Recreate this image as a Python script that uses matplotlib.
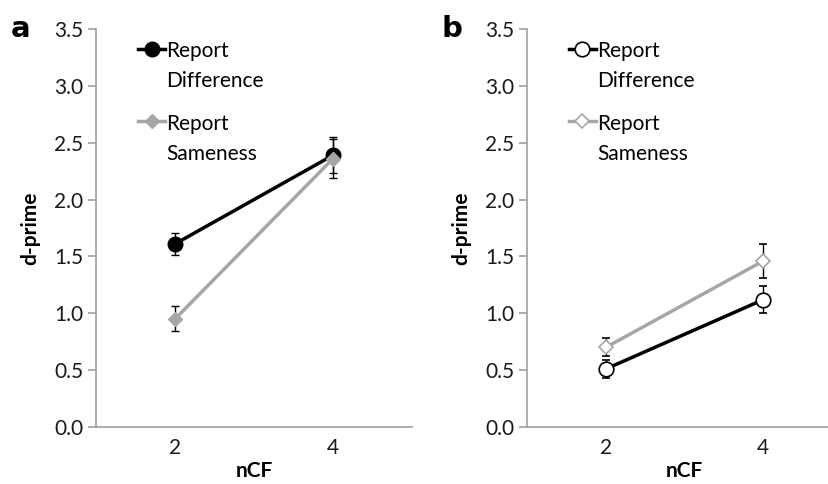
import matplotlib
matplotlib.use('Agg')
import matplotlib.pyplot as plt
from matplotlib.lines import Line2D

plt.rcParams['font.family'] = ['Lato', 'DejaVu Sans']

# nCF categories
ncf = ['2', '4']

# panel a
a_diff = [1.61, 2.39]
a_diff_err = [0.10, 0.16]
a_same = [0.95, 2.36]
a_same_err = [0.11, 0.17]

# panel b
b_diff = [0.51, 1.12]
b_diff_err = [0.08, 0.12]
b_same = [0.70, 1.46]
b_same_err = [0.08, 0.15]

labels = ['Report\nDifference', 'Report\nSameness']

W, H = 829, 484
fig = plt.figure(figsize=(W / 100, H / 100), dpi=100)

GRAY = '#a6a6a6'
AXIS = '#a0a0a0'
FS = 15


def setup(ax, letter):
    ax.set_xlim(-0.5, 1.5)
    ax.set_ylim(0, 3.5)
    ax.set_yticks([0, 0.5, 1.0, 1.5, 2.0, 2.5, 3.0, 3.5])
    ax.set_yticklabels(['%.1f' % v for v in ax.get_yticks()])
    ax.set_xticks(range(len(ncf)))
    ax.set_xticklabels(ncf)
    for s in ['top', 'right']:
        ax.spines[s].set_visible(False)
    for s in ['left', 'bottom']:
        ax.spines[s].set_color(AXIS)
        ax.spines[s].set_linewidth(1.2)
    ax.tick_params(axis='y', direction='out', length=6, color=AXIS, width=1.2,
                   labelsize=FS, pad=3, labelcolor='#1a1a1a')
    ax.tick_params(axis='x', length=0, labelsize=FS, pad=8, labelcolor='#1a1a1a')
    ax.set_ylabel('d-prime', fontsize=FS, fontweight='bold', labelpad=10)
    ax.set_xlabel('nCF', fontsize=FS, fontweight='bold', labelpad=2)
    ax.text(-0.27, 1.0, letter, transform=ax.transAxes, fontsize=21,
            fontweight='bold', va='center', ha='left', family='DejaVu Sans')


def add_legend(ax, handles):
    leg = ax.legend(handles, labels, loc='upper left', bbox_to_anchor=(0.1, 0.995),
                    frameon=False, fontsize=FS, handlelength=1.3, handletextpad=0.05,
                    labelspacing=1.1, borderaxespad=0.1)
    for t in leg.get_texts():
        t.set_linespacing(1.6)
    for col in leg._legend_handle_box.get_children():
        for row in col.get_children():
            row.align = 'top'
    return leg


bot = 1 - 427 / H
top = 1 - 29 / H
x = range(len(ncf))
eb = dict(ecolor='black', elinewidth=1, capsize=3, capthick=1)

ax1 = fig.add_axes([96 / W, bot, (412 - 96) / W, top - bot])
ax1.errorbar(x, a_diff, yerr=a_diff_err, color='black', lw=2.5, marker='o', ms=10.5,
             zorder=3, **eb)
ax1.errorbar(x, a_same, yerr=a_same_err, color=GRAY, lw=2.5, marker='D', ms=7.5,
             zorder=4, **eb)
setup(ax1, 'a')
add_legend(ax1, [
    Line2D([], [], color='black', lw=2.5, marker='o', ms=10.5),
    Line2D([], [], color=GRAY, lw=2.5, marker='D', ms=7.5),
])

ax2 = fig.add_axes([527 / W, bot, (842 - 527) / W, top - bot])
ax2.errorbar(x, b_diff, yerr=b_diff_err, color='black', lw=2.5, marker='o', ms=10.5,
             mfc='white', mec='black', mew=1.2, zorder=3, **eb)
ax2.errorbar(x, b_same, yerr=b_same_err, color=GRAY, lw=2.5, marker='D', ms=7.5,
             mfc='white', mec=GRAY, mew=1.2, zorder=4, **eb)
setup(ax2, 'b')
add_legend(ax2, [
    Line2D([], [], color='black', lw=2.5, marker='o', ms=10.5, mfc='white', mew=1.2),
    Line2D([], [], color=GRAY, lw=2.5, marker='D', ms=7.5, mfc='white', mec=GRAY, mew=1.2),
])

fig.savefig('out.png', dpi=100)
